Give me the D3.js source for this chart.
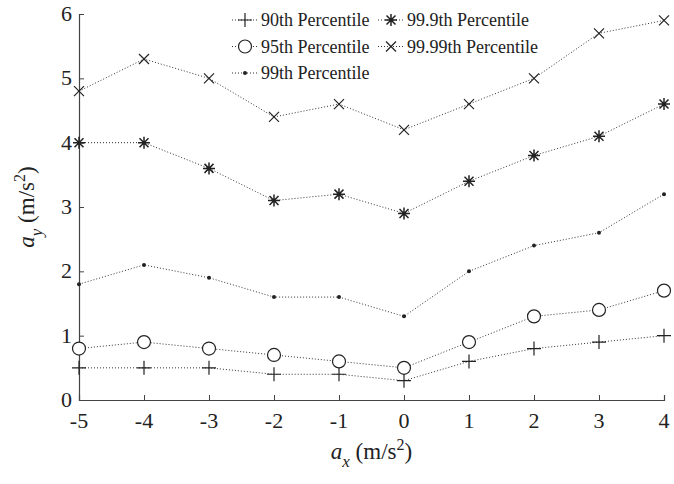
<!DOCTYPE html>
<html>
<head>
<meta charset="utf-8">
<script src="https://cdn.jsdelivr.net/npm/d3@7"></script>
</head>
<body style="margin:0">
<svg id="chart" width="674" height="484"></svg>
<script>
// Lateral acceleration percentiles versus longitudinal acceleration
const ax = [-5, -4, -3, -2, -1, 0, 1, 2, 3, 4];
const p90   = [0.5, 0.5, 0.5, 0.4, 0.4, 0.3, 0.6, 0.8, 0.9, 1.0];
const p95   = [0.8, 0.9, 0.8, 0.7, 0.6, 0.5, 0.9, 1.3, 1.4, 1.7];
const p99   = [1.8, 2.1, 1.9, 1.6, 1.6, 1.3, 2.0, 2.4, 2.6, 3.2];
const p999  = [4.0, 4.0, 3.6, 3.1, 3.2, 2.9, 3.4, 3.8, 4.1, 4.6];
const p9999 = [4.8, 5.3, 5.0, 4.4, 4.6, 4.2, 4.6, 5.0, 5.7, 5.9];
const xTicks = [-5, -4, -3, -2, -1, 0, 1, 2, 3, 4];
const yTicks = [0, 1, 2, 3, 4, 5, 6];
const seriesNames = ["90th Percentile", "95th Percentile", "99th Percentile", "99.9th Percentile", "99.99th Percentile"];
const seriesMarkers = ["plus", "circle", "dot", "star", "cross"];
const seriesValues = [p90, p95, p99, p999, p9999];

const svg = d3.select("#chart");
const ink = "#222";
const FONT = "\"Liberation Serif\", \"Times New Roman\", serif";
const margin = { left: 79, right: 10, top: 14, bottom: 84 };
const W = 674, H = 484;

const x = d3.scaleLinear().domain([-5, 4]).range([margin.left, W - margin.right]);
const y = d3.scaleLinear().domain([0, 6]).range([H - margin.bottom, margin.top]);

// Axis lines and inward ticks
svg.append("g")
  .attr("transform", `translate(0,${y(0)})`)
  .call(d3.axisBottom(x).tickValues(xTicks).tickSize(-5).tickFormat(""))
  .call(g => g.select(".domain").attr("stroke", "#444").attr("stroke-width", 1.2))
  .call(g => g.selectAll(".tick line").attr("stroke", "#444"));
svg.append("g")
  .attr("transform", `translate(${x(-5)},0)`)
  .call(d3.axisLeft(y).tickValues(yTicks).tickSize(-5).tickFormat(""))
  .call(g => g.select(".domain").attr("stroke", "#444").attr("stroke-width", 1.2))
  .call(g => g.selectAll(".tick line").attr("stroke", "#444"));

// Tick labels, placed through the scales
svg.selectAll("text.xlab").data(xTicks).join("text")
  .attr("class", "xlab")
  .attr("x", d => x(d)).attr("y", y(0) + 28)
  .attr("text-anchor", "middle")
  .attr("font-size", 22)
  .style("font-family", FONT)
  .attr("fill", ink)
  .text(d => String(d));
svg.selectAll("text.ylab").data(yTicks).join("text")
  .attr("class", "ylab")
  .attr("x", x(-5) - 7).attr("y", d => y(d) + 7)
  .attr("text-anchor", "end")
  .attr("font-size", 22)
  .style("font-family", FONT)
  .attr("fill", ink)
  .text(d => String(d));

// Marker symbols
function drawMarker(g, type, cx, cy) {
  const s = g.append("g").attr("transform", `translate(${cx},${cy})`)
    .attr("stroke", ink).attr("fill", "none").attr("stroke-width", 1.2);
  if (type === "plus") {
    s.append("path").attr("d", "M-7,0H7M0,-7V7");
  } else if (type === "circle") {
    s.append("circle").attr("r", 6.5).attr("fill", "#fff");
  } else if (type === "dot") {
    s.append("circle").attr("r", 2).attr("fill", ink).attr("stroke", "none");
  } else if (type === "star") {
    s.append("path").attr("d", "M-6,0H6M0,-6V6M-4.5,-4.5L4.5,4.5M-4.5,4.5L4.5,-4.5").attr("stroke-width", 1.5);
  } else if (type === "cross") {
    s.append("path").attr("d", "M-5,-5L5,5M-5,5L5,-5");
  }
}

// Dotted series lines with markers
const line = d3.line().x((d, i) => x(ax[i])).y(d => y(d));
seriesValues.forEach(vals => {
  svg.append("path")
    .datum(vals)
    .attr("d", line)
    .attr("fill", "none")
    .attr("stroke", "#333")
    .attr("stroke-width", 1)
    .attr("stroke-dasharray", "1,2");
});
seriesValues.forEach((vals, k) => {
  const g = svg.append("g");
  vals.forEach((v, i) => drawMarker(g, seriesMarkers[k], x(ax[i]), y(v)));
});

// Legend in two columns
const legendCols = [232, 378];
const legendRows = [20, 46.5, 73];
const legendPos = seriesNames.map((n, k) => ({
  name: n, k,
  lx: legendCols[k < 3 ? 0 : 1],
  ly: legendRows[k < 3 ? k : k - 3]
}));
legendPos.forEach(p => {
  svg.append("line")
    .attr("x1", p.lx).attr("x2", p.lx + 26).attr("y1", p.ly).attr("y2", p.ly)
    .attr("stroke", "#333").attr("stroke-width", 1).attr("stroke-dasharray", "1,2");
  drawMarker(svg, seriesMarkers[p.k], p.lx + 13, p.ly);
});
svg.selectAll("text.leg").data(legendPos).join("text")
  .attr("class", "leg")
  .attr("x", p => p.lx + 29).attr("y", p => p.ly + 6)
  .attr("font-size", 18)
  .style("font-family", FONT)
  .attr("fill", ink)
  .text(p => p.name);

// Axis titles
function axisTitle(sel, sub) {
  sel.attr("text-anchor", "middle").attr("fill", ink)
    .attr("font-size", 23)
    .style("font-family", FONT);
  sel.append("tspan").attr("font-style", "italic").text("a");
  sel.append("tspan").attr("font-style", "italic").attr("font-size", 17).attr("dy", 8).text(sub);
  sel.append("tspan").attr("dy", -8).text(" (m/s");
  sel.append("tspan").attr("font-size", 16).attr("dy", -9).text("2");
  sel.append("tspan").attr("dy", 9).text(")");
}
axisTitle(svg.append("text").attr("x", x(-0.5)).attr("y", 459), "x");
axisTitle(svg.append("text").attr("transform", `translate(34,${y(3)}) rotate(-90)`), "y");
</script>
</body>
</html>
